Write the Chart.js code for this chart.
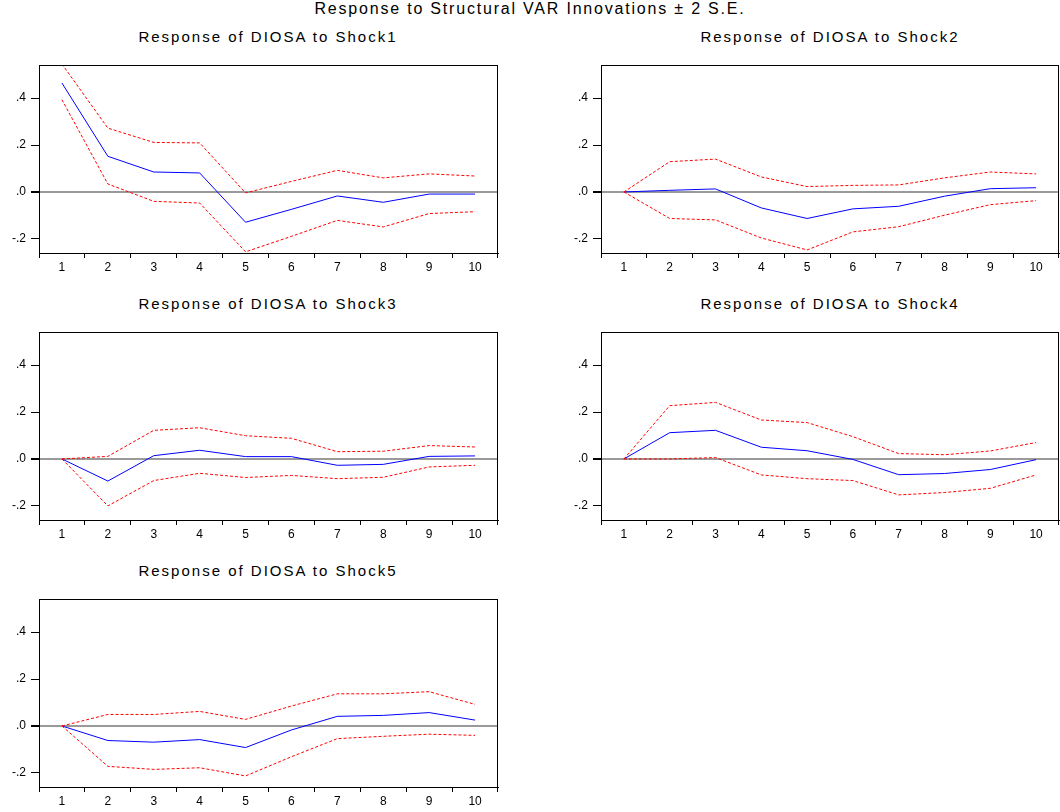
<!DOCTYPE html>
<html>
<head>
<meta charset="utf-8">
<script src="https://cdn.jsdelivr.net/npm/chart.js@4.4.1/dist/chart.umd.min.js"></script>
<style>
  html, body { margin:0; padding:0; background:#fff; width:1060px; height:812px; overflow:hidden; position:relative; }
  .ttl { position:absolute; text-align:center; font-family:"Liberation Sans", Arial, sans-serif; color:#000; white-space:nowrap; }
  .main { font-size:16px; letter-spacing:1.8px; }
  .sub { font-size:15px; letter-spacing:2.0px; }
  canvas { position:absolute; }
</style>
</head>
<body>
<div class="ttl main" style="left:0;width:1060px;top:0px;">Response to Structural VAR Innovations ± 2 S.E.</div>
<div class="ttl sub" style="left:39px;width:458px;top:28px;">Response of DIOSA to Shock1</div>
<div class="ttl sub" style="left:601px;width:458px;top:28px;">Response of DIOSA to Shock2</div>
<div class="ttl sub" style="left:39px;width:458px;top:295px;">Response of DIOSA to Shock3</div>
<div class="ttl sub" style="left:601px;width:458px;top:295px;">Response of DIOSA to Shock4</div>
<div class="ttl sub" style="left:39px;width:458px;top:562px;">Response of DIOSA to Shock5</div>

<canvas id="c1" width="500" height="225" style="left:-1px;top:53px;"></canvas>
<canvas id="c2" width="499" height="225" style="left:561px;top:53px;"></canvas>
<canvas id="c3" width="500" height="225" style="left:-1px;top:320px;"></canvas>
<canvas id="c4" width="499" height="225" style="left:561px;top:320px;"></canvas>
<canvas id="c5" width="500" height="225" style="left:-1px;top:587px;"></canvas>

<script>
// ---- data ----
const periods = ['1','2','3','4','5','6','7','8','9','10'];
const yTickValues = [-0.2, 0, 0.2, 0.4];

const shock1Resp  = [0.464, 0.152, 0.085, 0.081, -0.129, -0.074, -0.017, -0.044, -0.009, -0.009];
const shock1Upper = [0.545, 0.272, 0.211, 0.209, -0.004, 0.045, 0.092, 0.060, 0.077, 0.068];
const shock1Lower = [0.393, 0.034, -0.040, -0.047, -0.255, -0.189, -0.121, -0.149, -0.092, -0.084];

const shock2Resp  = [0.000, 0.007, 0.013, -0.068, -0.113, -0.072, -0.061, -0.018, 0.014, 0.018];
const shock2Upper = [0.000, 0.129, 0.140, 0.064, 0.023, 0.028, 0.030, 0.060, 0.085, 0.077];
const shock2Lower = [0.000, -0.113, -0.119, -0.196, -0.247, -0.170, -0.148, -0.099, -0.054, -0.037];

const shock3Resp  = [0.000, -0.094, 0.014, 0.037, 0.010, 0.010, -0.027, -0.023, 0.011, 0.013];
const shock3Upper = [0.000, 0.011, 0.122, 0.133, 0.099, 0.088, 0.031, 0.033, 0.057, 0.051];
const shock3Lower = [0.000, -0.200, -0.092, -0.061, -0.079, -0.070, -0.084, -0.078, -0.034, -0.027];

const shock4Resp  = [0.000, 0.112, 0.122, 0.050, 0.035, -0.002, -0.067, -0.062, -0.045, -0.003];
const shock4Upper = [0.000, 0.227, 0.241, 0.166, 0.155, 0.095, 0.023, 0.018, 0.034, 0.070];
const shock4Lower = [0.000, 0.000, 0.006, -0.068, -0.084, -0.092, -0.153, -0.143, -0.125, -0.068];

const shock5Resp  = [0.000, -0.062, -0.069, -0.058, -0.092, -0.017, 0.041, 0.045, 0.057, 0.025];
const shock5Upper = [0.000, 0.049, 0.049, 0.062, 0.028, 0.085, 0.137, 0.137, 0.146, 0.092];
const shock5Lower = [0.000, -0.172, -0.185, -0.178, -0.213, -0.131, -0.054, -0.044, -0.035, -0.040];

const yMin = -0.26, yMax = 0.54;

// ---- helpers ----
const FONT = '"Liberation Sans", Arial, sans-serif';

const boxPlugin = {
  id: 'box',
  afterDraw(chart) {
    const a = chart.chartArea, ctx = chart.ctx;
    ctx.save();
    ctx.strokeStyle = '#000';
    ctx.lineWidth = 1;
    ctx.strokeRect(Math.round(a.left) + 0.5, Math.round(a.top) + 0.5,
                   Math.round(a.right - a.left) - 1, Math.round(a.bottom - a.top));
    ctx.restore();
  }
};

function fmtTick(v) {
  if (Math.abs(v) < 1e-9) return '.0';
  const s = '.' + Math.round(Math.abs(v) * 10);
  return v < 0 ? '-' + s : s;
}

function makeChart(id, resp, upper, lower) {
  new Chart(document.getElementById(id), {
    type: 'line',
    data: {
      labels: periods,
      datasets: [
        { data: upper, borderColor: '#ff0000', borderWidth: 1, borderDash: [3, 2], pointRadius: 0, tension: 0, fill: false },
        { data: lower, borderColor: '#ff0000', borderWidth: 1, borderDash: [3, 2], pointRadius: 0, tension: 0, fill: false },
        { data: resp,  borderColor: '#0000ff', borderWidth: 1, pointRadius: 0, tension: 0, fill: false }
      ]
    },
    options: {
      responsive: false,
      animation: false,
      events: [],
      layout: { padding: { top: 0, right: 1, left: 0, bottom: 0 } },
      plugins: { legend: { display: false }, tooltip: { enabled: false }, title: { display: false } },
      scales: {
        x: {
          type: 'category',
          offset: true,
          grid: { offset: true, drawOnChartArea: false, color: '#000', tickColor: '#000', tickLength: 5, lineWidth: 1 },
          border: { display: true, color: '#000', width: 1 },
          ticks: { color: '#000', font: { family: FONT, size: 12 }, padding: 2, maxRotation: 0, autoSkip: false },
          afterFit(s) { s.height = 25; }
        },
        y: {
          min: yMin, max: yMax,
          afterBuildTicks(s) { s.ticks = yTickValues.map(v => ({ value: v })); },
          grid: {
            drawOnChartArea: true,
            color: c => (c.tick && Math.abs(c.tick.value) < 1e-9) ? '#9a9a9a' : 'rgba(0,0,0,0)',
            lineWidth: c => (c.tick && Math.abs(c.tick.value) < 1e-9) ? 2 : 1,
            tickColor: '#000', tickLength: 8
          },
          border: { display: true, color: '#000', width: 1 },
          ticks: { color: '#000', font: { family: FONT, size: 12 }, padding: 5, callback: v => fmtTick(v) },
          afterFit(s) { s.width = 40; }
        }
      }
    },
    plugins: [boxPlugin]
  });
}

makeChart('c1', shock1Resp, shock1Upper, shock1Lower);
makeChart('c2', shock2Resp, shock2Upper, shock2Lower);
makeChart('c3', shock3Resp, shock3Upper, shock3Lower);
makeChart('c4', shock4Resp, shock4Upper, shock4Lower);
makeChart('c5', shock5Resp, shock5Upper, shock5Lower);
</script>
</body>
</html>
